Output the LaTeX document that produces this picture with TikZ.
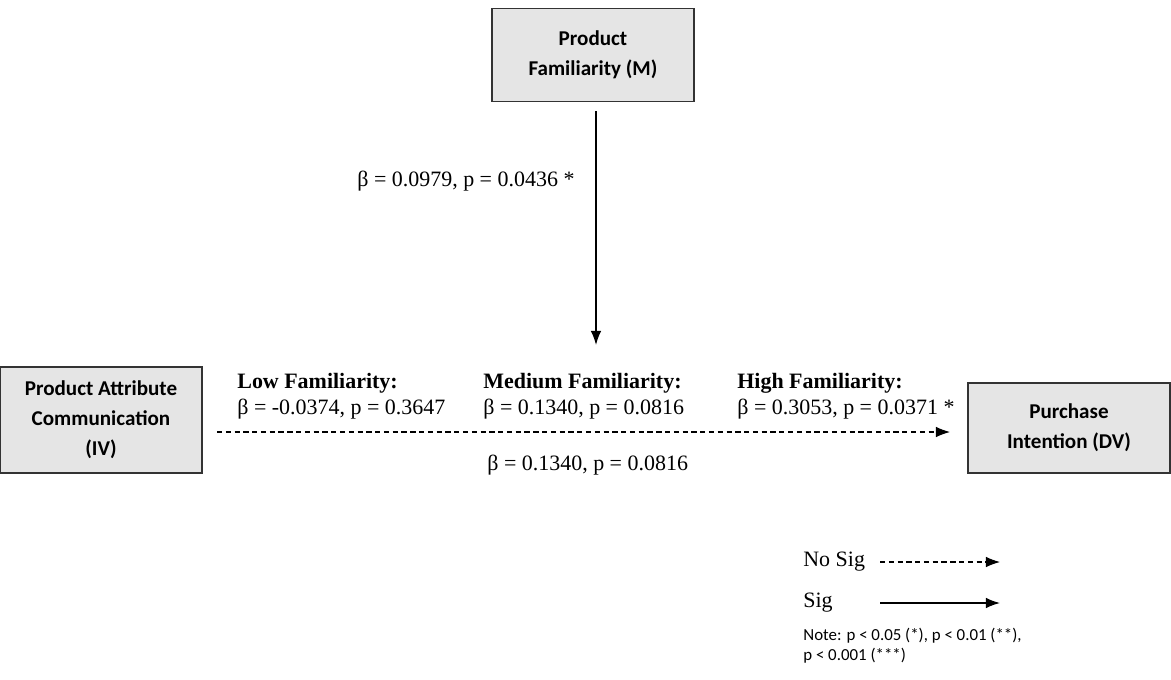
\documentclass[tikz,border=0pt]{standalone}
\usepackage{fontspec}
\setmainfont{Liberation Serif}
\newfontfamily\boxfont{Carlito}
\usetikzlibrary{arrows.meta}

\begin{document}
\begin{tikzpicture}[x=0.02cm, y=-0.02cm,
    varbox/.style={draw=black!80, line width=0.9pt, fill=black!10, minimum width=4.04cm,
        align=center, font=\boxfont\fontsize{12}{17}\selectfont\bfseries},
    coef/.style={align=left, font=\fontsize{12.5}{14.5}\selectfont, inner sep=0pt},
    nosig/.style={dash pattern=on 3pt off 2pt, line width=0.6pt, -{Latex[length=8pt,width=6pt]}},
    sig/.style={line width=0.8pt, -{Latex[length=8pt,width=6pt]}}]
\useasboundingbox (0,0) rectangle (1171,680);
% variables
\node[varbox, minimum height=1.86cm] (fam) at (593,55) {Product\\Familiarity (M)};
\node[varbox, minimum height=2.12cm] (iv) at (101,420) {Product Attribute\\Communication\\(IV)};
\node[varbox, minimum height=1.8cm] (dv) at (1069,428) {Purchase\\Intention (DV)};
% moderation path
\coordinate (modtip) at (596,345);
\draw[sig, shorten <=0.18cm] (fam.south -| modtip) -- (modtip);
\node[coef, anchor=west] (modlab) at (357,181) {β = 0.0979, p = 0.0436 *};
% direct path
\coordinate (pathstart) at (217,432);
\coordinate (pathend) at (950,432);
\draw[nosig] (pathstart) -- (pathend);
\node[coef, anchor=north west] (lowlab) at (237,373) {\textbf{Low Familiarity:}\\β = -0.0374, p = 0.3647};
\node[coef, anchor=north west] (medlab) at (483,373) {\textbf{Medium Familiarity:}\\β = 0.1340, p = 0.0816};
\node[coef, anchor=north west] (highlab) at (737,373) {\textbf{High Familiarity:}\\β = 0.3053, p = 0.0371 *};
\node[coef, anchor=west] (dirlab) at (487,465) {β = 0.1340, p = 0.0816};
% legend
\node[coef, anchor=west] (nosiglab) at (803,562) {No Sig};
\node[coef, anchor=west] (siglab) at (803,603) {Sig};
\coordinate (nosigend) at (1000,562);
\coordinate (sigend) at (1000,603);
\draw[nosig] (880,562) -- (nosigend);
\draw[sig] (880,603) -- (sigend);
\node[anchor=north west, align=left, inner sep=0pt, font=\boxfont\fontsize{9.6}{11.5}\selectfont] (note) at (803,628)
    {Note: p < 0.05 (*), p < 0.01 (**),\\p < 0.001 (***)};
\end{tikzpicture}
\end{document}
